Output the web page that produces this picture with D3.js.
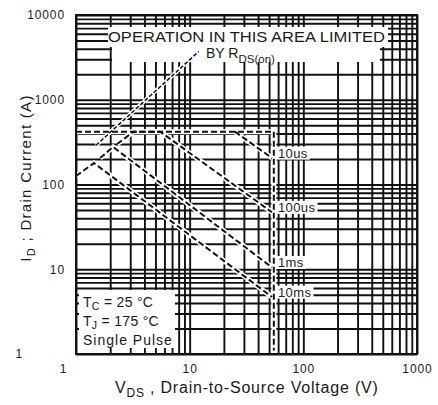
<!DOCTYPE html>
<html>
<head>
<meta charset="utf-8">
<script src="https://cdn.jsdelivr.net/npm/d3@7"></script>
<style>
  html, body { margin: 0; padding: 0; background: #fff; }
  svg { display: block; font-family: "Liberation Sans", Arial, sans-serif; }
</style>
</head>
<body>
<svg id="chart" width="438" height="405"></svg>
<script>
// Tick labels shown on each axis
const xTicks = [1, 10, 100, 1000];
const yTicks = [1, 10, 100, 1000, 10000];

// Boundaries of the safe operating area: [V_DS (V), I_D (A)]
const packageLimit   = [[1, 420], [55, 420]];
const breakdownLimit = [[55, 420], [55, 1.1]];
const rdsOnLimit     = [[1.5, 290], [12, 3700]];

// Single-pulse curves: [V_DS (V), I_D (A)]
const pulseNames = ["10us", "100us", "1ms", "10ms"];
const pulse10us  = [[25, 420], [53, 205]];
const pulse100us = [[2.3, 300], [3.2, 420], [5.5, 420], [53, 47]];
const pulse1ms   = [[1.63, 205], [2.12, 277], [53, 10.5]];
const pulse10ms  = [[1, 126], [1.44, 179], [53, 4.7]];
const pulseSeries = [pulse10us, pulse100us, pulse1ms, pulse10ms];

const svg = d3.select("#chart");
const plotL = 76, plotR = 417, plotT = 15, plotB = 354;

const x = d3.scaleLog().domain([1, 1000]).range([plotL, plotR]);
const y = d3.scaleLog().domain([1, 10000]).range([plotB, plotT]);

const ink = "#111";

// ---- grid: every 1..9 step of each decade ----
const gridX = svg.append("g")
  .attr("transform", `translate(0,${plotB})`)
  .call(d3.axisBottom(x).tickValues(x.ticks()).tickSize(-(plotB - plotT)).tickFormat(""));
const gridY = svg.append("g")
  .attr("transform", `translate(${plotL},0)`)
  .call(d3.axisLeft(y).tickValues(y.ticks()).tickSize(-(plotR - plotL)).tickFormat(""));
[gridX, gridY].forEach(g => {
  g.select(".domain").remove();
  g.selectAll("line").attr("stroke", ink).attr("stroke-width", 1.9);
});

// ---- white panels behind the annotations on the grid ----
const panels = svg.append("g").attr("fill", "#fff");
panels.append("rect").attr("x", 108).attr("y", 27).attr("width", 280).attr("height", 20);
panels.append("rect").attr("x", 112).attr("y", 46).attr("width", 268).attr("height", 16);
panels.append("rect").attr("x", 79).attr("y", 290).attr("width", 96).attr("height", 58);

// ---- boundary and pulse curves ----
const line = d3.line().x(d => x(d[0])).y(d => y(d[1]));
const dashedSeries = [packageLimit, breakdownLimit, ...pulseSeries];

const curves = svg.append("g").attr("fill", "none");
curves.selectAll("path.casing")
  .data(dashedSeries)
  .join("path")
  .attr("class", "casing")
  .attr("d", line)
  .attr("stroke", "#fff")
  .attr("stroke-width", 5);
curves.append("path")
  .datum(rdsOnLimit)
  .attr("d", line)
  .attr("stroke", "#fff")
  .attr("stroke-width", 4);

curves.selectAll("path.dash")
  .data(dashedSeries)
  .join("path")
  .attr("class", "dash")
  .attr("d", line)
  .attr("stroke", ink)
  .attr("stroke-width", 2)
  .attr("stroke-dasharray", "6,3");
curves.append("path")
  .datum(rdsOnLimit)
  .attr("d", line)
  .attr("stroke", ink)
  .attr("stroke-width", 1.5)
  .attr("stroke-dasharray", "4,2");

// ---- pulse-width labels at the end of each curve ----
const labels = svg.append("g");
pulseSeries.forEach((s, i) => {
  const end = s[s.length - 1];
  const g = labels.append("g");
  const t = g.append("text")
    .attr("x", x(end[0]) + 6)
    .attr("y", y(end[1]) - 5)
    .attr("dy", "0.35em")
    .attr("font-size", 13)
    .attr("letter-spacing", 0.4)
    .attr("fill", "#222")
    .text(pulseNames[i]);
  const b = t.node().getBBox();
  g.insert("rect", "text")
    .attr("x", b.x - 2).attr("y", b.y + 1)
    .attr("width", b.width + 4).attr("height", b.height - 2)
    .attr("fill", "#fff");
});

// ---- plot frame ----
svg.append("rect")
  .attr("x", plotL).attr("y", plotT)
  .attr("width", plotR - plotL).attr("height", plotB - plotT)
  .attr("fill", "none").attr("stroke", ink).attr("stroke-width", 2);

// ---- axis tick labels ----
const xAxis = svg.append("g")
  .attr("transform", `translate(0,${plotB})`)
  .call(d3.axisBottom(x).tickValues(xTicks).tickSize(0).tickPadding(10.5).tickFormat(d3.format("d")));
const yAxis = svg.append("g")
  .attr("transform", `translate(${plotL},0)`)
  .call(d3.axisLeft(y).tickValues(yTicks).tickSize(0).tickPadding(11).tickFormat(d3.format("d")));
[xAxis, yAxis].forEach(g => {
  g.select(".domain").remove();
  g.selectAll("text")
    .attr("font-family", "Liberation Sans, Arial, sans-serif")
    .attr("font-size", 12)
    .attr("letter-spacing", 0.9)
    .attr("fill", "#222");
});
xAxis.selectAll(".tick").filter(d => d === 1).select("text").attr("x", -13);
yAxis.selectAll(".tick").filter(d => d === 1).select("text").attr("x", -53);

// ---- annotations ----
svg.append("text")
  .attr("x", 108).attr("y", 42)
  .attr("font-size", 14.5)
  .attr("textLength", 277).attr("lengthAdjust", "spacingAndGlyphs")
  .attr("fill", "#1a1a1a")
  .text("OPERATION IN THIS AREA LIMITED");

const by = svg.append("text")
  .attr("x", 206).attr("y", 58)
  .attr("font-size", 14)
  .attr("fill", "#1a1a1a");
by.append("tspan").text("BY R");
by.append("tspan").attr("dy", 5).attr("font-size", 11.5).text("DS(on)");

const legendRows = [["T", "C", " = 25 °C"], ["T", "J", " = 175 °C"]];
legendRows.forEach((r, i) => {
  const t = svg.append("text")
    .attr("x", 83).attr("y", 307 + i * 19)
    .attr("font-size", 14)
    .attr("letter-spacing", 0.3)
    .attr("fill", "#1a1a1a");
  t.append("tspan").text(r[0]);
  t.append("tspan").attr("dy", 3).attr("font-size", 10.5).text(r[1]);
  t.append("tspan").attr("dy", -3).text(r[2]);
});
svg.append("text")
  .attr("x", 83).attr("y", 344.5)
  .attr("font-size", 14)
  .attr("letter-spacing", 1)
  .attr("fill", "#1a1a1a")
  .text("Single Pulse");

// ---- axis titles ----
const xt = svg.append("text")
  .attr("x", 115).attr("y", 393)
  .attr("font-size", 16)
  .attr("letter-spacing", 0.8)
  .attr("fill", "#1a1a1a");
xt.append("tspan").text("V");
xt.append("tspan").attr("dy", 4).attr("font-size", 12).text("DS");
xt.append("tspan").attr("dy", -4).text(" , Drain-to-Source Voltage (V)");

const yt = svg.append("text")
  .attr("transform", "translate(31,178) rotate(-90)")
  .attr("text-anchor", "middle")
  .attr("font-size", 15)
  .attr("letter-spacing", 1.3)
  .attr("fill", "#1a1a1a");
yt.append("tspan").text("I");
yt.append("tspan").attr("dy", 4).attr("font-size", 11).text("D");
yt.append("tspan").attr("dy", -4).text(" ; Drain Current (A)");
</script>
</body>
</html>
